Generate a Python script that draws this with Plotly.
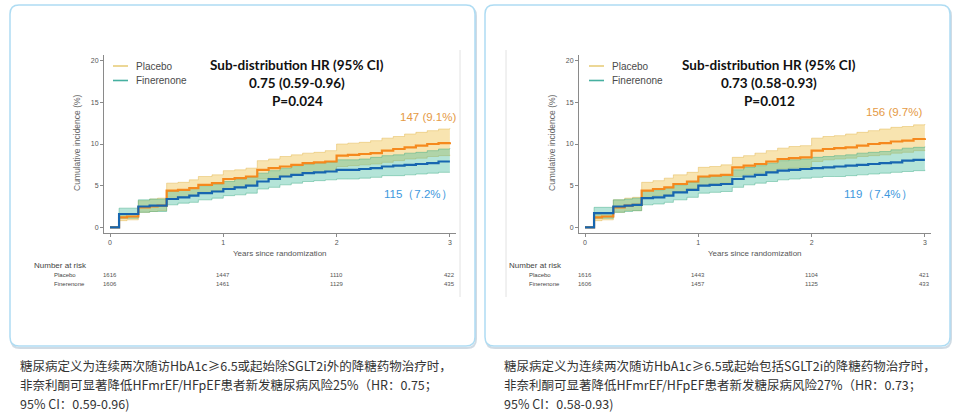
import plotly.graph_objects as go

W, H = 960, 414

# ---------------- data ----------------
years = [0, 0.08, 0.15, 0.25, 0.35, 0.42, 0.5, 0.6, 0.7, 0.78, 0.9, 1.0, 1.1, 1.2, 1.3, 1.4,
         1.5, 1.6, 1.7, 1.8, 1.9, 2.0, 2.1, 2.2, 2.3, 2.4, 2.5, 2.6, 2.7, 2.8, 2.9, 3.0]

# Left panel (excluding SGLT2i)
L_placebo = [0, 1.2, 1.3, 2.4, 2.5, 2.6, 4.4, 4.5, 4.7, 5.1, 5.3, 5.8, 5.9, 6.1, 6.9, 7.1,
             7.3, 7.5, 7.7, 7.8, 7.9, 8.6, 8.7, 8.8, 8.9, 9.2, 9.4, 9.6, 9.8, 10.0, 10.1, 10.2]
L_placebo_hi = [0.1, 1.5, 1.6, 3.2, 3.4, 3.5, 5.3, 5.4, 5.7, 6.1, 6.3, 6.8, 6.9, 7.1, 8.0, 8.2,
                8.5, 8.7, 8.9, 9.0, 9.2, 10.0, 10.1, 10.2, 10.4, 10.7, 10.9, 11.2, 11.4, 11.6, 11.8, 11.9]
L_placebo_lo = [0, 0.8, 0.9, 1.8, 1.9, 2.0, 3.6, 3.7, 3.8, 4.2, 4.4, 4.8, 4.9, 5.1, 5.8, 6.0,
                6.2, 6.3, 6.5, 6.6, 6.7, 7.3, 7.4, 7.5, 7.6, 7.8, 8.0, 8.2, 8.3, 8.5, 8.6, 8.7]
L_fin = [0, 1.6, 1.6, 2.5, 2.6, 2.6, 3.4, 3.6, 3.8, 4.1, 4.3, 4.6, 4.8, 5.0, 5.5, 5.8,
         6.1, 6.3, 6.5, 6.6, 6.7, 6.9, 6.9, 7.0, 7.1, 7.3, 7.4, 7.5, 7.6, 7.7, 7.9, 7.9]
L_fin_hi = [0.1, 2.3, 2.3, 3.3, 3.4, 3.4, 4.3, 4.5, 4.7, 5.0, 5.2, 5.5, 5.8, 6.0, 6.5, 6.8,
            7.1, 7.4, 7.6, 7.7, 7.8, 8.1, 8.1, 8.2, 8.4, 8.6, 8.7, 8.9, 9.0, 9.2, 9.4, 9.5]
L_fin_lo = [0, 1.1, 1.1, 1.8, 1.9, 1.9, 2.7, 2.9, 3.0, 3.3, 3.5, 3.8, 3.9, 4.1, 4.6, 4.8,
            5.1, 5.3, 5.5, 5.6, 5.7, 5.8, 5.8, 5.9, 6.0, 6.2, 6.2, 6.3, 6.4, 6.5, 6.6, 6.6]

# Right panel (including SGLT2i)
R_placebo = [0, 1.2, 1.3, 2.4, 2.6, 2.7, 4.4, 4.6, 4.8, 5.2, 5.5, 6.1, 6.2, 6.3, 7.2, 7.4,
             7.6, 7.9, 8.2, 8.3, 8.4, 9.2, 9.4, 9.5, 9.6, 9.8, 10.0, 10.1, 10.3, 10.4, 10.6, 10.7]
R_placebo_hi = [0.1, 1.6, 1.7, 3.3, 3.5, 3.6, 5.4, 5.6, 5.9, 6.3, 6.6, 7.2, 7.3, 7.5, 8.4, 8.6,
                8.9, 9.2, 9.5, 9.7, 9.8, 10.7, 10.9, 11.0, 11.2, 11.4, 11.6, 11.8, 12.0, 12.1, 12.3, 12.4]
R_placebo_lo = [0, 0.8, 0.9, 1.8, 2.0, 2.0, 3.6, 3.8, 3.9, 4.3, 4.6, 5.1, 5.2, 5.3, 6.1, 6.3,
                6.5, 6.7, 7.0, 7.1, 7.2, 7.9, 8.1, 8.2, 8.3, 8.5, 8.6, 8.7, 8.9, 9.0, 9.2, 9.3]
R_fin = [0, 1.7, 1.7, 2.5, 2.6, 2.7, 3.5, 3.6, 3.8, 4.2, 4.5, 5.0, 5.1, 5.2, 5.8, 6.1,
         6.3, 6.6, 6.8, 6.9, 7.0, 7.1, 7.2, 7.3, 7.4, 7.5, 7.6, 7.7, 7.8, 8.0, 8.1, 8.1]
R_fin_hi = [0.1, 2.4, 2.4, 3.3, 3.4, 3.5, 4.4, 4.5, 4.7, 5.1, 5.4, 6.0, 6.1, 6.2, 6.9, 7.2,
            7.4, 7.7, 8.0, 8.1, 8.2, 8.4, 8.5, 8.6, 8.7, 8.9, 9.0, 9.1, 9.3, 9.5, 9.6, 9.7]
R_fin_lo = [0, 1.1, 1.1, 1.8, 1.9, 2.0, 2.7, 2.8, 3.0, 3.3, 3.6, 4.1, 4.2, 4.3, 4.8, 5.1,
            5.3, 5.5, 5.7, 5.8, 5.9, 6.0, 6.1, 6.1, 6.2, 6.3, 6.4, 6.5, 6.6, 6.7, 6.8, 6.9]

risk_years = [0, 1, 2, 3]
L_risk_placebo = ["1616", "1447", "1110", "422"]
L_risk_fin = ["1606", "1461", "1129", "435"]
R_risk_placebo = ["1616", "1443", "1104", "421"]
R_risk_fin = ["1606", "1457", "1125", "433"]

x_ticks = [0, 1, 2, 3]
y_ticks = [0, 5, 10, 15, 20]

L_hr = ["Sub-distribution HR (95% CI)", "0.75 (0.59-0.96)", "P=0.024"]
R_hr = ["Sub-distribution HR (95% CI)", "0.73 (0.58-0.93)", "P=0.012"]
L_end_labels = ["147 (9.1%)", "115（7.2%）"]
R_end_labels = ["156 (9.7%)", "119（7.4%）"]
L_caption = ["糖尿病定义为连续两次随访HbA1c≥6.5或起始除SGLT2i外的降糖药物治疗时，",
             "非奈利酮可显著降低HFmrEF/HFpEF患者新发糖尿病风险25%（HR：0.75；",
             "95% CI：0.59-0.96)"]
R_caption = ["糖尿病定义为连续两次随访HbA1c≥6.5或起始包括SGLT2i的降糖药物治疗时，",
             "非奈利酮可显著降低HFmrEF/HFpEF患者新发糖尿病风险27%（HR：0.73；",
             "95% CI：0.58-0.93)"]

# ---------------- styling ----------------
C_PLACEBO = "#f5891d"
C_FIN = "#1766b0"
F_PLACEBO = "rgba(237,187,57,0.40)"
F_FIN = "rgba(67,187,157,0.40)"
E_PLACEBO = "rgba(225,180,70,0.55)"
E_FIN = "rgba(60,170,130,0.55)"
C_LEG_PLACEBO = "#e8cd7c"
C_LEG_FIN = "#46b0a0"
C_LBL_PLACEBO = "#e59a45"
C_LBL_FIN = "#3d98dd"
BORDER = "#aedcf3"
TXT = "#333333"
AX = "#8a8a8a"
SANS = "Liberation Sans, Arial, sans-serif"
BOLD = "Lato, Liberation Sans, sans-serif"
CJK = "Noto Sans CJK SC, Noto Sans, sans-serif"


def PX(x):
    return x / W


def PY(y):
    return 1 - y / H


fig = go.Figure()

panels = [
    dict(xa="x", ya="y", off=0, pl=L_placebo, plh=L_placebo_hi, pll=L_placebo_lo,
         fi=L_fin, fih=L_fin_hi, fil=L_fin_lo, rp=L_risk_placebo, rf=L_risk_fin,
         hr=L_hr, ends=L_end_labels, cap=L_caption),
    dict(xa="x2", ya="y2", off=475, pl=R_placebo, plh=R_placebo_hi, pll=R_placebo_lo,
         fi=R_fin, fih=R_fin_hi, fil=R_fin_lo, rp=R_risk_placebo, rf=R_risk_fin,
         hr=R_hr, ends=R_end_labels, cap=R_caption),
]

shapes = []
annotations = []


def rrect(x0, y0, x1, y1, r):
    return (f"M {PX(x0+r)},{PY(y0)} L {PX(x1-r)},{PY(y0)} Q {PX(x1)},{PY(y0)} {PX(x1)},{PY(y0+r)} "
            f"L {PX(x1)},{PY(y1-r)} Q {PX(x1)},{PY(y1)} {PX(x1-r)},{PY(y1)} "
            f"L {PX(x0+r)},{PY(y1)} Q {PX(x0)},{PY(y1)} {PX(x0)},{PY(y1-r)} "
            f"L {PX(x0)},{PY(y0+r)} Q {PX(x0)},{PY(y0)} {PX(x0+r)},{PY(y0)} Z")


for i, p in enumerate(panels):
    xa, ya = p["xa"], p["ya"]
    # confidence bands
    fig.add_trace(go.Scatter(x=years, y=p["pll"], mode="lines", line=dict(width=0.8, color=E_PLACEBO, shape="hv"),
                             xaxis=xa, yaxis=ya, showlegend=False, hoverinfo="skip"))
    fig.add_trace(go.Scatter(x=years, y=p["plh"], mode="lines", line=dict(width=0.8, color=E_PLACEBO, shape="hv"),
                             fill="tonexty", fillcolor=F_PLACEBO,
                             xaxis=xa, yaxis=ya, showlegend=False, hoverinfo="skip"))
    fig.add_trace(go.Scatter(x=years, y=p["fil"], mode="lines", line=dict(width=0.8, color=E_FIN, shape="hv"),
                             xaxis=xa, yaxis=ya, showlegend=False, hoverinfo="skip"))
    fig.add_trace(go.Scatter(x=years, y=p["fih"], mode="lines", line=dict(width=0.8, color=E_FIN, shape="hv"),
                             fill="tonexty", fillcolor=F_FIN,
                             xaxis=xa, yaxis=ya, showlegend=False, hoverinfo="skip"))
    # curves
    fig.add_trace(go.Scatter(x=years, y=p["pl"], mode="lines", name="Placebo",
                             line=dict(color=C_PLACEBO, width=2.2, shape="hv"),
                             xaxis=xa, yaxis=ya, showlegend=False))
    fig.add_trace(go.Scatter(x=years, y=p["fi"], mode="lines", name="Finerenone",
                             line=dict(color=C_FIN, width=2.2, shape="hv"),
                             xaxis=xa, yaxis=ya, showlegend=False))

    o = p["off"]
    # panel border with shadow
    shapes.append(dict(type="path", path=rrect(11 + o, 7, 476 + o, 348, 9), xref="paper", yref="paper",
                       line=dict(color="rgba(170,190,205,0.55)", width=2), fillcolor="rgba(0,0,0,0)",
                       layer="below"))
    shapes.append(dict(type="path", path=rrect(10 + o, 5, 475 + o, 346, 9), xref="paper", yref="paper",
                       line=dict(color=BORDER, width=1.5), fillcolor="white", layer="below"))
    # faint image-edge line
    lx = 460 if i == 0 else 506
    shapes.append(dict(type="line", x0=PX(lx), x1=PX(lx), y0=PY(50), y1=PY(297), xref="paper",
                       yref="paper", line=dict(color="#e2e2e2", width=1), layer="below"))

    # legend
    lg0 = 113 if i == 0 else 589
    for k, (lab, col, yy) in enumerate([("Placebo", C_LEG_PLACEBO, 66), ("Finerenone", C_LEG_FIN, 80.5)]):
        shapes.append(dict(type="line", x0=PX(lg0), x1=PX(lg0 + 15), y0=PY(yy), y1=PY(yy),
                           xref="paper", yref="paper", line=dict(color=col, width=1.6)))
        annotations.append(dict(x=PX(lg0 + 21), y=PY(yy), xref="paper", yref="paper", text=lab,
                                showarrow=False, xanchor="left", yanchor="middle",
                                font=dict(family=SANS, size=10, color="#4a4a4a")))

    # HR text block
    cx = 297 if i == 0 else 769
    for k, (t, yy) in enumerate(zip(p["hr"], [65, 83, 101])):
        annotations.append(dict(x=PX(cx), y=PY(yy), xref="paper", yref="paper", text=f"<b>{t}</b>",
                                showarrow=False, xanchor="center", yanchor="middle",
                                font=dict(family=BOLD, size=13.5, color="#111111")))

    # end labels
    lab_pos = [(2.81, 13.2), (2.72, 4.0)] if i == 0 else [(2.73, 13.8), (2.59, 4.0)]
    for t, (lx_, ly_), col in zip(p["ends"], lab_pos, [C_LBL_PLACEBO, C_LBL_FIN]):
        annotations.append(dict(x=lx_, y=ly_, xref=xa, yref=ya, text=t, showarrow=False,
                                xanchor="center", yanchor="middle", bgcolor="white",
                                font=dict(family=SANS, size=11.5, color=col)))

    # y-axis title
    annotations.append(dict(x=PX(77 + o), y=PY(143), xref="paper", yref="paper",
                            text="Cumulative incidence (%)", showarrow=False, textangle=-90,
                            xanchor="center", yanchor="middle",
                            font=dict(family=SANS, size=8.5, color="#666666")))
    # x-axis title
    annotations.append(dict(x=PX(280 + o), y=PY(254), xref="paper", yref="paper",
                            text="Years since randomization", showarrow=False,
                            xanchor="center", yanchor="middle",
                            font=dict(family=SANS, size=8, color="#555555")))
    # risk table
    rx = 32 if i == 0 else 507
    annotations.append(dict(x=PX(rx), y=PY(265), xref="paper", yref="paper", text="Number at risk",
                            showarrow=False, xanchor="left", yanchor="middle",
                            font=dict(family=SANS, size=8, color="#444444")))
    for lab, vals, yy in [("Placebo", p["rp"], 274.5), ("Finerenone", p["rf"], 283.5)]:
        annotations.append(dict(x=PX(rx + 20), y=PY(yy), xref="paper", yref="paper", text=lab,
                                showarrow=False, xanchor="left", yanchor="middle",
                                font=dict(family=SANS, size=6, color="#444444")))
        for xv, v in zip(risk_years, vals):
            annotations.append(dict(x=xv, y=PY(yy), xref=xa, yref="paper", text=v, showarrow=False,
                                    xanchor="center", yanchor="middle",
                                    font=dict(family=SANS, size=6, color="#555555")))
    # caption
    capx = 18 if i == 0 else 502
    for t, yy in zip(p["cap"], [365, 384, 403]):
        annotations.append(dict(x=PX(capx), y=PY(yy), xref="paper", yref="paper", text=t,
                                showarrow=False, xanchor="left", yanchor="middle",
                                font=dict(family=CJK, size=12.5, color=TXT)))

axis_common = dict(showgrid=False, zeroline=False, showline=True, linecolor=AX, linewidth=1,
                   ticks="outside", ticklen=3, tickcolor=AX, tickwidth=1,
                   tickfont=dict(family=SANS, size=7, color="#555555"), fixedrange=True)

fig.update_layout(
    width=W, height=H, margin=dict(l=0, r=0, t=0, b=0),
    paper_bgcolor="white", plot_bgcolor="rgba(0,0,0,0)",
    showlegend=False,
    xaxis=dict(domain=[PX(104), PX(456)], range=[-0.053, 3.054], tickvals=x_ticks,
               anchor="y", **axis_common),
    yaxis=dict(domain=[PY(233), PY(55)], range=[-0.68, 20.68], tickvals=y_ticks,
               anchor="x", **axis_common),
    xaxis2=dict(domain=[PX(579), PX(931)], range=[-0.053, 3.054], tickvals=x_ticks,
                anchor="y2", **axis_common),
    yaxis2=dict(domain=[PY(233), PY(55)], range=[-0.68, 20.68], tickvals=y_ticks,
                anchor="x2", **axis_common),
    shapes=shapes,
    annotations=annotations,
)

fig.write_html("out.html", config={"displayModeBar": False},
               post_script="document.body.style.margin='0';document.body.style.overflow='hidden';")
